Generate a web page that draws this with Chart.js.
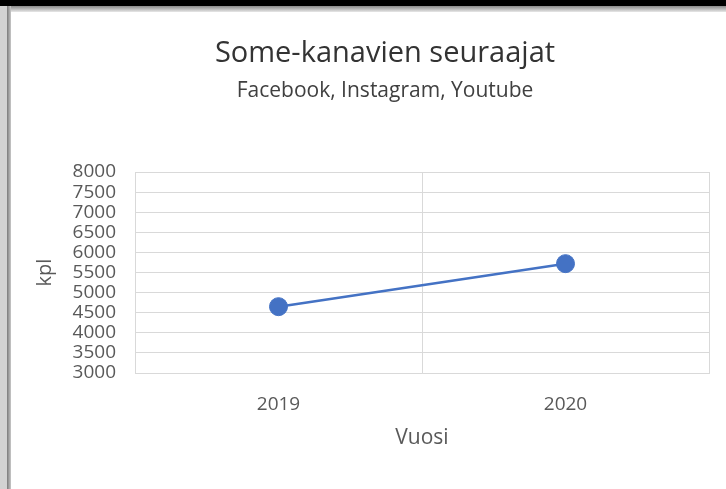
<!DOCTYPE html>
<html>
<head>
    <title>Some-kanavien seuraajat</title>
    <script src="https://cdn.jsdelivr.net/npm/chart.js"></script>
    <style>
        html, body { margin: 0; padding: 0; background: #fff; overflow: hidden; width: 726px; height: 489px; }
        #wrap { position: absolute; left: 0; top: 0; width: 770px; height: 489px; }
        .edge-top { position: absolute; left: 0; top: 0; width: 726px; height: 6px; background: #000; }
        .edge-top2 { position: absolute; left: 0; top: 6px; width: 726px; height: 6px; background: linear-gradient(#8a8a8a, #e8e8e8); }
        .edge-left { position: absolute; left: 0; top: 6px; width: 7px; height: 483px; background: #d2d2d2; }
        .edge-left2 { position: absolute; left: 7px; top: 6px; width: 4px; height: 483px; background: linear-gradient(90deg, #7a7a7a, #c8c8c8); }
    </style>
</head>
<body>
    <div id="wrap"><canvas id="lineChart" width="770" height="489"></canvas></div>
    <div class="edge-top2"></div>
    <div class="edge-left"></div>
    <div class="edge-left2"></div>
    <div class="edge-top"></div>
    <script>
        const vuodet = ['2019', '2020'];
        const seuraajat = [4650, 5720];
        const yMin = 3000;
        const yMax = 8000;
        const yStep = 500;

        const grey = '#d9d9d9';
        const textGrey = '#595959';

        const ctx = document.getElementById('lineChart').getContext('2d');
        const lineChart = new Chart(ctx, {
            type: 'line',
            data: {
                labels: vuodet,
                datasets: [{
                    label: 'kpl',
                    data: seuraajat,
                    borderColor: '#4472c4',
                    backgroundColor: '#4472c4',
                    borderWidth: 2.5,
                    pointRadius: 9,
                    pointBorderWidth: 1,
                    fill: false
                }]
            },
            options: {
                responsive: false,
                animation: false,
                // left and right padding equal so the title sits over x = 385
                layout: { padding: { left: 61, right: 61, top: 0, bottom: 0 } },
                plugins: {
                    legend: { display: false },
                    tooltip: { enabled: false },
                    title: {
                        display: true,
                        text: 'Some-kanavien seuraajat',
                        color: '#333333',
                        font: { family: 'Open Sans', size: 29, weight: 'normal' },
                        padding: { top: 36, bottom: 8 }
                    },
                    subtitle: {
                        display: true,
                        text: 'Facebook, Instagram, Youtube',
                        color: '#404040',
                        font: { family: 'Open Sans', size: 21 },
                        padding: { top: 0, bottom: 68 }
                    }
                },
                scales: {
                    x: {
                        offset: true,
                        grid: { color: grey, offset: true, drawTicks: false },
                        border: { color: grey },
                        ticks: {
                            color: textGrey,
                            font: { family: 'Open Sans', size: 19 },
                            padding: 20
                        },
                        title: {
                            display: true,
                            text: 'Vuosi',
                            color: textGrey,
                            font: { family: 'Open Sans', size: 21 },
                            padding: { top: 0, bottom: 38 }
                        },
                        afterFit: function(scale) { scale.height = 116; }
                    },
                    y: {
                        min: yMin,
                        max: yMax,
                        grid: { color: grey, drawTicks: false },
                        border: { color: grey },
                        ticks: {
                            stepSize: yStep,
                            autoSkip: false,
                            color: textGrey,
                            font: { family: 'Open Sans', size: 19 },
                            padding: 19,
                            callback: function(value) { return String(value); }
                        },
                        title: {
                            display: true,
                            text: 'kpl',
                            color: textGrey,
                            font: { family: 'Open Sans', size: 20 },
                            padding: { top: -28, bottom: 0 }
                        },
                        afterFit: function(scale) { scale.width = 74; }
                    }
                }
            }
        });
    </script>
</body>
</html>
